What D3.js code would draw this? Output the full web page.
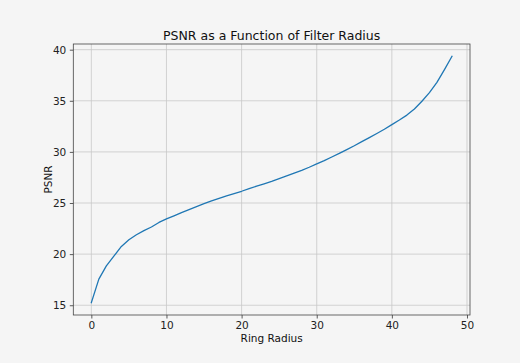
<!DOCTYPE html>
<html>
<head>
<meta charset="utf-8">
<script src="https://cdn.jsdelivr.net/npm/d3@7"></script>
<style>
  html, body { margin: 0; padding: 0; background: #f5f5f5; }
  svg { display: block; font-family: "DejaVu Sans", sans-serif; }
</style>
</head>
<body>
<svg id="chart" width="520" height="363"></svg>
<script>
// Ring radius values (x) and the PSNR measured at each radius (y)
const radius = d3.range(0, 49);
const psnr = [
  15.25, 17.55, 18.85, 19.8, 20.75, 21.4, 21.9, 22.3, 22.65, 23.1,
  23.45, 23.75, 24.05, 24.35, 24.65, 24.93, 25.2, 25.45, 25.7, 25.93,
  26.15, 26.4, 26.65, 26.88, 27.12, 27.38, 27.65, 27.92, 28.2, 28.5,
  28.82, 29.15, 29.5, 29.85, 30.23, 30.6, 31.0, 31.4, 31.8, 32.22,
  32.67, 33.12, 33.6, 34.2, 34.95, 35.8, 36.8, 38.05, 39.35
];
const xTicks = [0, 10, 20, 30, 40, 50];
const yTicks = [15, 20, 25, 30, 35, 40];
const titleText = "PSNR as a Function of Filter Radius";
const xLabel = "Ring Radius";
const yLabel = "PSNR";

const svg = d3.select("#chart");
const plotLeft = 73.3, plotRight = 470, plotTop = 44, plotBottom = 315;

// 5% padding around the data range on both axes
const xMin = d3.min(radius), xMax = d3.max(radius);
const yMin = d3.min(psnr), yMax = d3.max(psnr);
const xPad = (xMax - xMin) * 0.05, yPad = (yMax - yMin) * 0.05;

const x = d3.scaleLinear().domain([xMin - xPad, xMax + xPad]).range([plotLeft, plotRight]);
const y = d3.scaleLinear().domain([yMin - yPad, yMax + yPad]).range([plotBottom, plotTop]);

svg.append("rect").attr("width", 520).attr("height", 363).attr("fill", "#f5f5f5");

// grid
const grid = svg.append("g").attr("stroke", "#c8c8c8").attr("stroke-width", 0.8);
grid.selectAll(".gx").data(xTicks).join("line")
  .attr("x1", d => x(d)).attr("x2", d => x(d))
  .attr("y1", plotTop).attr("y2", plotBottom);
grid.selectAll(".gy").data(yTicks).join("line")
  .attr("x1", plotLeft).attr("x2", plotRight)
  .attr("y1", d => y(d)).attr("y2", d => y(d));

// data line
const line = d3.line().x((d, i) => x(radius[i])).y(d => y(d));
svg.append("path").datum(psnr)
  .attr("fill", "none").attr("stroke", "#1f77b4").attr("stroke-width", 1.3)
  .attr("stroke-linejoin", "round").attr("stroke-linecap", "square")
  .attr("d", line);

// axes
const xAxis = svg.append("g").attr("transform", `translate(0,${plotBottom})`)
  .call(d3.axisBottom(x).tickValues(xTicks).tickSize(3.5).tickPadding(3.5).tickFormat(d3.format("d")));
const yAxis = svg.append("g").attr("transform", `translate(${plotLeft},0)`)
  .call(d3.axisLeft(y).tickValues(yTicks).tickSize(3.5).tickPadding(3.5).tickFormat(d3.format("d")));
[xAxis, yAxis].forEach(g => {
  g.select(".domain").remove();
  g.selectAll(".tick line").attr("stroke", "#333").attr("stroke-width", 0.8);
  g.selectAll(".tick text").attr("fill", "#222").attr("font-size", 10.5)
    .attr("font-family", "DejaVu Sans, sans-serif");
});

// frame
svg.append("rect").attr("x", plotLeft).attr("y", plotTop)
  .attr("width", plotRight - plotLeft).attr("height", plotBottom - plotTop)
  .attr("fill", "none").attr("stroke", "#444").attr("stroke-width", 0.8);

// labels
svg.append("text").attr("x", (plotLeft + plotRight) / 2).attr("y", 40)
  .attr("text-anchor", "middle").attr("font-size", 12.5).attr("fill", "#111").text(titleText);
svg.append("text").attr("x", (plotLeft + plotRight) / 2).attr("y", 342)
  .attr("text-anchor", "middle").attr("font-size", 10.5).attr("fill", "#111").text(xLabel);
svg.append("text").attr("transform", `translate(52,${(plotTop + plotBottom) / 2}) rotate(-90)`)
  .attr("text-anchor", "middle").attr("font-size", 10.5).attr("fill", "#111").text(yLabel);
</script>
</body>
</html>
